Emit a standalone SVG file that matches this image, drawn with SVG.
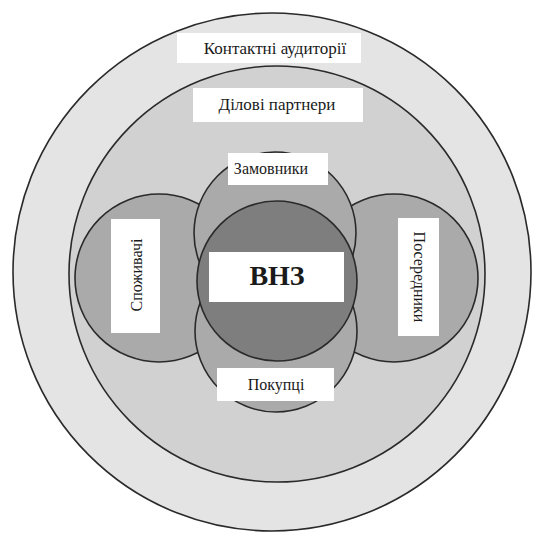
<svg xmlns="http://www.w3.org/2000/svg" width="543" height="543" viewBox="0 0 543 543">
<style>
  .ring { stroke: #2a2a2a; stroke-width: 1.6; }
  .box { fill: #ffffff; stroke: none; }
  .lbl { font-family: "Liberation Serif", "Times New Roman", serif; font-size: 16px; fill: #1a1a1a; text-anchor: middle; dominant-baseline: central; }
  .lg { font-size: 17px; }
  .big { font-family: "Liberation Serif", "Times New Roman", serif; font-size: 28px; font-weight: bold; fill: #1a1a1a; text-anchor: middle; dominant-baseline: central; }
</style>
<rect width="543" height="543" fill="#ffffff"/>
<g id="outer">
  <circle class="ring" cx="272" cy="272" r="259" fill="#e4e4e4"/>
  <rect class="box" x="177" y="33" width="184" height="30"/>
  <text class="lbl lg" x="275" y="48">Контактні аудиторії</text>
</g>
<g id="middle">
  <circle class="ring" cx="277" cy="274" r="208" fill="#d1d1d1"/>
  <rect class="box" x="193" y="88" width="170" height="34"/>
  <text class="lbl lg" x="277" y="104">Ділові партнери</text>
</g>
<g id="left">
  <circle class="ring" cx="159" cy="278" r="84" fill="#aaaaaa"/>
</g>
<g id="right">
  <circle class="ring" cx="394" cy="278" r="84" fill="#aaaaaa"/>
</g>
<g id="top">
  <circle class="ring" cx="275" cy="233" r="81" fill="#aaaaaa"/>
</g>
<g id="bottom">
  <circle class="ring" cx="276" cy="331" r="81" fill="#aaaaaa"/>
</g>
<g id="center">
  <circle class="ring" cx="277" cy="281" r="80" fill="#7e7e7e"/>
</g>
<g id="labels-inner">
  <g id="lbl-left">
    <rect class="box" x="111" y="219" width="49" height="114"/>
    <text class="lbl" transform="translate(136,275) rotate(-90)">Споживачі</text>
  </g>
  <g id="lbl-right">
    <rect class="box" x="398" y="218" width="41" height="118"/>
    <text class="lbl" transform="translate(419,277) rotate(90)">Посередники</text>
  </g>
  <g id="lbl-top">
    <rect class="box" x="228" y="153" width="100" height="32"/>
    <text class="lbl" x="271" y="168">Замовники</text>
  </g>
  <g id="lbl-bottom">
    <rect class="box" x="217" y="368" width="117" height="33"/>
    <text class="lbl" x="276" y="384">Покупці</text>
  </g>
  <g id="lbl-center">
    <rect class="box" x="209" y="252" width="135" height="50"/>
    <text class="big" x="277" y="275">ВНЗ</text>
  </g>
</g>
</svg>
